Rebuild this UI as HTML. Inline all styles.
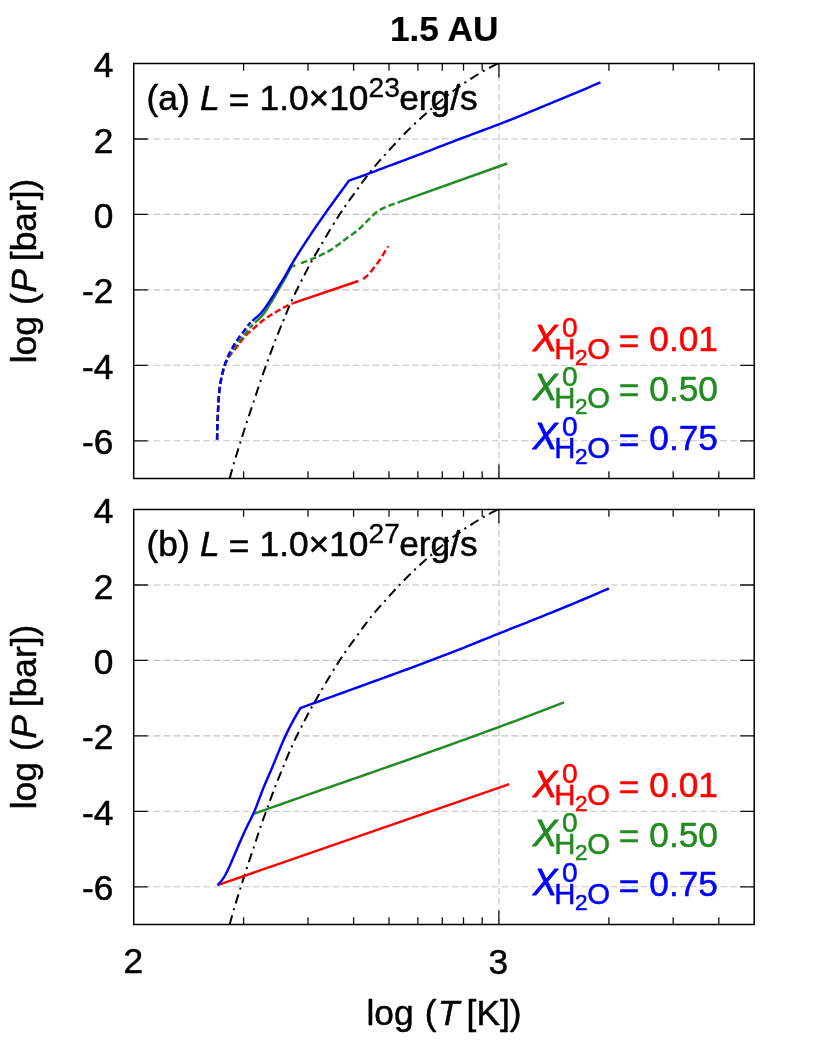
<!DOCTYPE html>
<html><head><meta charset="utf-8"><title>chart</title>
<style>html,body{margin:0;padding:0;background:#fff}body{width:830px;height:1040px;position:relative;overflow:hidden;font-family:"Liberation Sans", sans-serif}</style>
</head><body>
<svg width="830" height="1040" viewBox="0 0 830 1040" style="position:absolute;left:0;top:0;will-change:transform" font-family='"Liberation Sans", sans-serif' font-size="35.3" fill="#000">
<style>text{stroke-width:0.5px;stroke-linejoin:round}</style>
<rect width="830" height="1040" fill="#fff"/>
<defs><clipPath id="c0"><rect x="133.7" y="63.5" width="620.5" height="415.0"/></clipPath><clipPath id="c1"><rect x="133.7" y="509.5" width="620.5" height="415.0"/></clipPath></defs>
<path d="M133.7,139.0 H754.2" stroke="#c2c2c2" stroke-width="1.1" stroke-dasharray="6.8 3.14" fill="none"/>
<path d="M133.7,214.4 H754.2" stroke="#c2c2c2" stroke-width="1.1" stroke-dasharray="6.8 3.14" fill="none"/>
<path d="M133.7,289.9 H754.2" stroke="#c2c2c2" stroke-width="1.1" stroke-dasharray="6.8 3.14" fill="none"/>
<path d="M133.7,365.3 H754.2" stroke="#c2c2c2" stroke-width="1.1" stroke-dasharray="6.8 3.14" fill="none"/>
<path d="M133.7,440.8 H754.2" stroke="#c2c2c2" stroke-width="1.1" stroke-dasharray="6.8 3.14" fill="none"/>
<path d="M499.0,478.5 V63.5" stroke="#c2c2c2" stroke-width="1.1" stroke-dasharray="6.8 3.14" fill="none"/>
<g clip-path="url(#c0)" fill="none">
<path d="M227.78,485.27 L228.05,484.25 L228.33,483.24 M229.66,478.40 L229.92,477.47 L230.17,476.55 L230.43,475.62 L230.68,474.70 L230.94,473.77 L231.19,472.85 L231.45,471.92 L231.71,471.00 L231.96,470.07 L232.22,469.15 M233.60,464.32 L233.90,463.31 L234.19,462.31 M235.64,457.50 L235.92,456.58 L236.20,455.66 L236.49,454.75 L236.77,453.83 L237.06,452.91 L237.34,452.00 L237.63,451.08 L237.92,450.16 L238.20,449.25 L238.49,448.33 M240.00,443.54 L240.32,442.54 L240.63,441.54 M242.10,436.87 L242.39,435.96 L242.67,435.04 L242.96,434.12 L243.25,433.21 L243.54,432.29 L243.83,431.38 L244.12,430.46 L244.41,429.55 L244.70,428.63 L244.99,427.72 M246.49,423.06 L246.81,422.06 L247.14,421.06 M248.72,416.30 L249.03,415.39 L249.33,414.48 L249.64,413.57 L249.94,412.66 L250.25,411.75 L250.56,410.84 L250.87,409.93 L251.17,409.02 L251.48,408.11 L251.79,407.20 M253.39,402.44 L253.72,401.44 L254.05,400.45 M255.63,395.68 L255.93,394.77 L256.23,393.86 L256.53,392.95 L256.83,392.04 L257.13,391.12 L257.43,390.21 L257.73,389.30 L258.04,388.39 L258.34,387.48 L258.65,386.57 M260.25,381.81 L260.59,380.82 L260.94,379.83 M262.60,375.09 L262.92,374.19 L263.24,373.28 L263.56,372.38 L263.89,371.47 L264.21,370.57 L264.54,369.67 L264.86,368.76 L265.19,367.86 L265.52,366.96 L265.84,366.06 M267.56,361.34 L267.92,360.35 L268.28,359.36 M269.95,354.76 L270.28,353.86 L270.61,352.96 L270.94,352.06 L271.27,351.16 L271.60,350.26 L271.94,349.36 L272.27,348.46 L272.60,347.56 L272.94,346.66 L273.28,345.76 M275.02,341.18 L275.40,340.21 L275.78,339.23 M277.63,334.56 L277.99,333.67 L278.35,332.78 L278.71,331.89 L279.07,331.00 L279.43,330.11 L279.79,329.22 L280.15,328.33 L280.52,327.44 L280.88,326.56 L281.25,325.67 M283.15,321.02 L283.55,320.05 L283.95,319.08 M285.80,314.55 L286.16,313.66 L286.53,312.77 L286.89,311.88 L287.26,311.00 L287.63,310.11 L288.00,309.22 L288.37,308.34 L288.75,307.46 L289.12,306.57 L289.50,305.69 M291.46,301.21 L291.90,300.25 L292.33,299.29 M294.52,294.64 L294.94,293.77 L295.35,292.91 L295.77,292.04 L296.20,291.18 L296.62,290.32 L297.05,289.46 L297.48,288.60 L297.91,287.74 L298.34,286.88 L298.77,286.03 M301.10,281.44 L301.57,280.50 L302.05,279.57 M304.28,275.21 L304.72,274.36 L305.16,273.50 L305.60,272.65 L306.05,271.80 L306.49,270.95 L306.93,270.10 L307.38,269.25 L307.83,268.40 L308.28,267.55 L308.73,266.70 M311.05,262.39 L311.56,261.47 L312.07,260.55 M314.47,256.29 L314.95,255.46 L315.43,254.62 L315.91,253.79 L316.39,252.96 L316.87,252.13 L317.35,251.30 L317.84,250.47 L318.32,249.64 L318.81,248.82 L319.29,247.99 M321.78,243.77 L322.31,242.87 L322.84,241.96 M325.52,237.42 L326.01,236.60 L326.50,235.77 L326.99,234.94 L327.48,234.12 L327.97,233.29 L328.46,232.47 L328.95,231.64 L329.44,230.82 L329.94,230.00 L330.43,229.17 M333.17,224.67 L333.72,223.77 L334.27,222.88 M336.80,218.84 L337.31,218.03 L337.83,217.22 L338.35,216.41 L338.87,215.60 L339.39,214.80 L339.92,213.99 L340.44,213.19 L340.97,212.39 L341.50,211.59 L342.03,210.79 M344.72,206.84 L345.31,205.98 L345.92,205.12 M348.82,201.03 L349.38,200.25 L349.95,199.47 L350.51,198.69 L351.08,197.92 L351.64,197.14 L352.21,196.37 L352.77,195.59 L353.34,194.82 L353.91,194.04 L354.48,193.27 M357.44,189.21 L358.05,188.36 L358.67,187.51 M361.53,183.54 L362.09,182.76 L362.65,181.98 L363.21,181.20 L363.78,180.43 L364.34,179.65 L364.91,178.87 L365.48,178.10 L366.05,177.33 L366.62,176.56 L367.20,175.79 M370.18,171.91 L370.83,171.09 L371.49,170.27 M374.62,166.50 L375.24,165.77 L375.86,165.04 L376.49,164.31 L377.12,163.59 L377.76,162.87 L378.39,162.15 L379.03,161.43 L379.66,160.71 L380.30,160.00 L380.94,159.28 M384.23,155.65 L384.93,154.87 L385.63,154.09 M389.00,150.37 L389.65,149.66 L390.29,148.95 L390.94,148.24 L391.59,147.53 L392.24,146.82 L392.88,146.11 L393.53,145.40 L394.18,144.70 L394.83,143.99 L395.49,143.29 M398.92,139.62 L399.64,138.86 L400.36,138.10 M403.86,134.49 L404.53,133.81 L405.20,133.12 L405.88,132.44 L406.56,131.76 L407.24,131.08 L407.92,130.40 L408.60,129.73 L409.28,129.06 L409.97,128.38 L410.65,127.71 M414.27,124.23 L415.04,123.51 L415.80,122.79 M419.48,119.37 L420.19,118.72 L420.89,118.08 L421.60,117.43 L422.32,116.79 L423.03,116.14 L423.74,115.50 L424.46,114.86 L425.17,114.22 L425.89,113.58 L426.61,112.94 M430.38,109.63 L431.17,108.94 L431.96,108.25 M435.77,104.97 L436.50,104.35 L437.23,103.73 L437.96,103.11 L438.70,102.49 L439.44,101.88 L440.17,101.26 L440.91,100.65 L441.65,100.04 L442.39,99.43 L443.14,98.82 M447.06,95.68 L447.88,95.04 L448.71,94.39 M452.60,91.42 L453.37,90.84 L454.14,90.27 L454.92,89.70 L455.69,89.13 L456.47,88.57 L457.24,88.01 L458.02,87.45 L458.81,86.89 L459.59,86.33 L460.37,85.78 M464.41,83.00 L465.28,82.42 L466.15,81.83 M470.35,79.08 L471.16,78.56 L471.97,78.04 L472.78,77.53 L473.59,77.02 L474.41,76.51 L475.22,76.01 L476.04,75.51 L476.86,75.01 L477.68,74.51 L478.51,74.02 M482.85,71.49 L483.76,70.97 L484.67,70.45 M489.08,68.04 L489.92,67.59 L490.77,67.14 L491.62,66.69 L492.47,66.24 L493.32,65.80 L494.17,65.36 L495.03,64.92 L495.88,64.48 L496.73,64.04 L497.59,63.61 M502.08,61.36 L503.02,60.89 L503.96,60.43" stroke="#000" stroke-width="2.0"/>
<path d="M217.10,439.60 L217.12,438.70 L217.13,437.80 L217.15,436.90 L217.17,436.00 L217.18,435.10 L217.20,434.20 L217.22,433.30 M217.28,430.30 L217.30,429.40 L217.32,428.50 L217.35,427.60 L217.37,426.70 L217.39,425.80 L217.42,424.90 L217.45,424.00 M217.54,421.01 L217.58,420.11 L217.61,419.21 L217.65,418.31 L217.68,417.41 L217.72,416.51 L217.76,415.61 L217.80,414.71 M217.94,411.71 L217.99,410.82 L218.03,409.92 L218.08,409.02 L218.13,408.12 L218.18,407.22 L218.23,406.32 L218.28,405.42 M218.45,402.43 L218.51,401.53 L218.56,400.63 L218.62,399.73 L218.68,398.84 L218.75,397.94 L218.82,397.04 L218.89,396.14 M219.16,393.16 L219.25,392.26 L219.34,391.37 L219.44,390.47 L219.55,389.58 L219.66,388.68 L219.78,387.79 L219.91,386.90 M220.37,383.94 L220.52,383.05 L220.68,382.16 L220.84,381.28 L221.01,380.39 L221.18,379.51 L221.37,378.63 L221.55,377.75 M222.22,374.83 L222.44,373.95 L222.66,373.08 L222.89,372.21 L223.13,371.34 L223.37,370.48 L223.63,369.61 L223.89,368.75 M224.82,365.90 L225.12,365.05 L225.44,364.21 L225.76,363.37 L226.09,362.53 L226.44,361.70 L226.81,360.88 L227.19,360.07 M228.62,357.43 L229.09,356.66 L229.59,355.92 L230.12,355.18 L230.66,354.46 L231.21,353.76 L231.78,353.06 L232.35,352.36 M234.29,350.07 L234.86,349.37 L235.42,348.67 L235.98,347.96 L236.53,347.25 L237.07,346.53 L237.60,345.81 L238.14,345.08 M239.91,342.66 L240.44,341.94 L240.98,341.22 L241.52,340.50 L242.07,339.78 L242.63,339.08 L243.19,338.38 L243.76,337.68 M245.77,335.45 L246.40,334.80 L247.04,334.18 L247.70,333.56 L248.37,332.96 L249.04,332.37 L249.73,331.78 L250.41,331.20 M252.71,329.27 L253.39,328.68 L254.07,328.09 L254.74,327.49 L255.41,326.88 L256.07,326.28 L256.73,325.67 L257.39,325.06 M259.62,323.05 L260.30,322.46 L260.99,321.88 L261.68,321.31 L262.39,320.75 L263.10,320.20 L263.83,319.66 L264.55,319.13 M267.03,317.44 L267.78,316.95 L268.54,316.46 L269.30,315.98 L270.07,315.51 L270.84,315.04 L271.61,314.58 L272.38,314.12 M274.98,312.61 L275.75,312.16 L276.53,311.71 L277.31,311.26 L278.09,310.81 L278.87,310.35 L279.65,309.90 L280.42,309.44 M283.02,307.95 L283.81,307.51 L284.60,307.08 L285.40,306.66 L286.20,306.25 L287.00,305.85 L287.81,305.46 L288.63,305.08 M291.38,303.88 L291.94,303.64 L292.50,303.40" stroke="#ff0000" stroke-width="2.45"/>
<path d="M292.5,303.4 L358.3,281" stroke="#ff0000" stroke-width="2.45"/>
<path d="M363.16,279.00 L363.92,278.44 L364.66,277.85 L365.38,277.24 L366.11,276.65 L366.85,276.06 L367.57,275.45 L368.27,274.82 M370.49,272.25 L371.06,271.50 L371.63,270.74 L372.20,269.99 L372.77,269.24 L373.34,268.50 L373.92,267.75 L374.50,267.01 M376.62,264.35 L377.20,263.61 L377.78,262.86 L378.34,262.10 L378.89,261.33 L379.42,260.55 L379.93,259.77 L380.44,258.97 M382.21,256.07 L382.70,255.26 L383.18,254.45 L383.66,253.64 L384.14,252.83 L384.62,252.02 L385.09,251.20 L385.58,250.39 M387.41,247.53 L387.85,246.86 L388.30,246.20" stroke="#ff0000" stroke-width="2.45"/>
<path d="M217.10,439.60 L217.12,438.70 L217.14,437.80 L217.15,436.90 L217.17,436.00 L217.19,435.10 L217.21,434.20 L217.23,433.31 M217.30,430.31 L217.32,429.41 L217.34,428.51 L217.37,427.61 L217.39,426.71 L217.42,425.81 L217.45,424.91 L217.48,424.01 M217.58,421.02 L217.62,420.12 L217.66,419.22 L217.69,418.32 L217.73,417.42 L217.78,416.52 L217.82,415.63 L217.86,414.73 M218.01,411.73 L218.06,410.84 L218.10,409.94 L218.15,409.04 L218.20,408.14 L218.25,407.24 L218.30,406.34 L218.35,405.45 M218.51,402.45 L218.56,401.55 L218.62,400.66 L218.67,399.76 L218.73,398.86 L218.79,397.96 L218.85,397.07 L218.92,396.17 M219.17,393.18 L219.26,392.29 L219.35,391.39 L219.45,390.50 L219.55,389.60 L219.66,388.71 L219.78,387.82 L219.90,386.93 M220.35,383.96 L220.50,383.07 L220.65,382.19 L220.81,381.30 L220.97,380.42 L221.14,379.53 L221.32,378.65 L221.50,377.77 M222.14,374.84 L222.35,373.96 L222.56,373.09 L222.77,372.22 L223.00,371.34 L223.22,370.47 L223.46,369.60 L223.70,368.74 M224.56,365.86 L224.84,365.02 L225.17,364.21 L225.49,363.40 L225.83,362.59 L226.18,361.79 L226.53,360.99 L226.90,360.19 M228.18,357.56 L228.59,356.78 L229.01,356.00 L229.44,355.23 L229.88,354.47 L230.32,353.71 L230.78,352.95 L231.24,352.20 M232.83,349.71 L233.31,348.97 L233.81,348.23 L234.30,347.50 L234.80,346.76 L235.30,346.03 L235.80,345.30 L236.31,344.57 M238.06,342.18 L238.60,341.48 L239.16,340.78 L239.72,340.09 L240.30,339.41 L240.89,338.74 L241.49,338.08 L242.10,337.42 M244.13,335.23 L244.73,334.57 L245.32,333.89 L245.87,333.20 L246.40,332.51 L246.93,331.80 L247.46,331.10 L247.98,330.39 M249.77,328.06 L250.34,327.37 L250.93,326.69 L251.53,326.02 L252.16,325.38 L252.80,324.74" stroke="#228b22" stroke-width="2.45"/>
<path d="M254.94,322.57 L255.66,321.89 L256.39,321.23 L257.12,320.57 L257.85,319.91 L258.58,319.25 L259.30,318.58 L260.02,317.89 L260.72,317.20 L261.40,316.48 L262.07,315.73 L262.72,314.96 L263.35,314.17 L263.96,313.37 L264.56,312.56 L265.14,311.74 L265.72,310.90 L266.28,310.06 L266.84,309.22 L267.39,308.37 L267.93,307.52 L268.47,306.66 L269.01,305.81 L269.55,304.95 L270.08,304.09 L270.61,303.22 L271.14,302.36 L271.67,301.49 L272.19,300.62 L272.70,299.75 L273.22,298.88 L273.72,298.00 L274.23,297.12 L274.73,296.27 L275.23,295.43 L275.72,294.58 L276.21,293.73 L276.70,292.87 L277.19,292.02 L277.68,291.17 L278.16,290.32 L278.65,289.47 L279.14,288.62 L279.64,287.77 L280.13,286.92 L280.62,286.07 L281.12,285.22 L281.62,284.38 L282.11,283.53 L282.61,282.68 L283.10,281.83 L283.59,280.98 L284.08,280.13 L284.56,279.27 L285.05,278.42 L285.52,277.56 L286.00,276.70 L286.46,275.83 L286.93,274.97 L287.40,274.10 L287.86,273.24 L288.32,272.37 L288.78,271.50 L289.24,270.63 L289.70,269.77 L290.16,268.90 L290.63,268.03 L291.09,267.17 L291.56,266.30 L292.03,265.44" stroke="#228b22" stroke-width="2.45"/>
<path d="M292.10,266.40 L292.90,266.11 L293.70,265.83 L294.50,265.54 L295.30,265.26 M301.04,263.18 L301.91,262.86 L302.78,262.54 L303.65,262.22 L304.52,261.89 L305.39,261.57 L306.26,261.24 L307.13,260.91 M310.01,259.78 L310.88,259.43 L311.74,259.09 L312.60,258.73 L313.45,258.38 L314.31,258.02 L315.16,257.65 L316.02,257.28 M318.85,256.02 L319.69,255.63 L320.53,255.24 L321.37,254.84 L322.21,254.44 L323.04,254.03 L323.88,253.62 L324.71,253.21 M327.45,251.77 L328.27,251.32 L329.07,250.86 L329.88,250.40 L330.68,249.92 L331.47,249.44 L332.25,248.94 L333.03,248.43 M335.57,246.66 L336.33,246.12 L337.07,245.57 L337.82,245.02 L338.56,244.46 L339.30,243.90 L340.04,243.34 L340.78,242.77 M343.25,240.90 L343.99,240.34 L344.73,239.78 L345.48,239.23 L346.22,238.67 L346.97,238.13 L347.73,237.58 L348.48,237.04 M351.01,235.25 L351.77,234.72 L352.53,234.18 L353.28,233.63 L354.03,233.09 L354.78,232.53 L355.52,231.97 L356.25,231.40 M358.63,229.42 L359.33,228.81 L360.02,228.18 L360.70,227.55 L361.37,226.91 L362.04,226.26 L362.70,225.61 L363.35,224.96 M365.53,222.75 L366.18,222.09 L366.83,221.43 L367.48,220.76 L368.13,220.10 L368.78,219.43 L369.43,218.77 L370.08,218.11 M372.27,215.92 L372.94,215.27 L373.62,214.64 L374.31,214.02 L375.02,213.41 L375.73,212.82 L376.47,212.25 L377.21,211.70 M379.81,210.00 L380.61,209.54 L381.42,209.09 L382.25,208.66 L383.08,208.24 L383.91,207.84 L384.76,207.45 L385.61,207.08 M388.48,205.92 L389.35,205.59 L390.22,205.27 L391.09,204.95 L391.97,204.64 L392.84,204.33 L393.72,204.02 L394.60,203.71 M397.52,202.68 L398.45,202.35 L399.37,202.03 L400.30,201.70" stroke="#228b22" stroke-width="2.45"/>
<path d="M400.3,201.7 L507.2,163.5" stroke="#228b22" stroke-width="2.45"/>
<path d="M217.10,439.60 L217.12,438.70 L217.13,437.80 L217.15,436.90 L217.16,436.00 L217.18,435.10 L217.20,434.20 L217.21,433.30 M217.28,430.30 L217.30,429.40 L217.32,428.50 L217.34,427.60 L217.37,426.70 L217.39,425.80 L217.42,424.90 L217.44,424.00 M217.55,421.01 L217.58,420.11 L217.62,419.21 L217.65,418.31 L217.69,417.41 L217.73,416.51 L217.77,415.61 L217.81,414.71 M217.95,411.71 L218.00,410.82 L218.04,409.92 L218.09,409.02 L218.14,408.12 L218.18,407.22 L218.23,406.32 L218.28,405.42 M218.44,402.43 L218.49,401.53 L218.54,400.63 L218.59,399.73 L218.65,398.83 L218.71,397.94 L218.77,397.04 L218.83,396.14 M219.08,393.15 L219.16,392.25 L219.25,391.36 L219.35,390.46 L219.45,389.57 L219.56,388.68 L219.67,387.78 L219.79,386.89 M220.24,383.92 L220.38,383.04 L220.53,382.15 L220.69,381.26 L220.85,380.38 L221.02,379.49 L221.20,378.61 L221.38,377.73 M222.01,374.80 L222.21,373.92 L222.42,373.04 L222.64,372.17 L222.86,371.30 L223.08,370.43 L223.32,369.56 L223.56,368.69 M224.41,365.81 L224.68,364.95 L224.96,364.10 L225.24,363.25 L225.54,362.40 L225.84,361.55 L226.15,360.70 L226.47,359.86 M227.62,357.09 L227.98,356.27 L228.35,355.45 L228.74,354.63 L229.13,353.83 L229.54,353.02 L229.95,352.22 L230.37,351.42 M231.81,348.79 L232.26,348.01 L232.70,347.23 L233.15,346.45 L233.61,345.67 L234.06,344.90 L234.52,344.13 L234.99,343.36 M236.60,340.82 L237.10,340.07 L237.61,339.33 L238.13,338.60 L238.67,337.88 L239.21,337.16 L239.77,336.46 L240.33,335.75 M242.22,333.42 L242.78,332.71 L243.32,332.00 L243.86,331.28 L244.39,330.55 L244.91,329.81 L245.43,329.08 L245.95,328.34 M247.71,325.91 L248.27,325.19 L248.85,324.48 L249.45,323.78 L250.06,323.11 L250.70,322.44" stroke="#0000ff" stroke-width="2.45"/>
<path d="M252.32,320.88 L253.06,320.21 L253.82,319.56 L254.58,318.92 L255.35,318.27 L256.11,317.63 L256.87,316.99 L257.63,316.34 L258.37,315.67 L259.10,314.99 L259.81,314.29 L260.50,313.57 L261.17,312.83 L261.82,312.07 L262.46,311.30 L263.08,310.52 L263.69,309.73 L264.29,308.93 L264.87,308.12 L265.45,307.31 L266.03,306.49 L266.60,305.67 L267.17,304.85 L267.73,304.03 L268.30,303.20 L268.85,302.38 L269.41,301.55 L269.96,300.72 L270.51,299.88 L271.06,299.05 L271.60,298.21 L272.14,297.37 L272.67,296.52 L273.20,295.68 L273.73,294.83 L274.25,293.98 L274.77,293.12 L275.28,292.27 L275.80,291.42 L276.31,290.56 L276.83,289.70 L277.34,288.85 L277.86,288.00 L278.38,287.14 L278.90,286.29 L279.42,285.44 L279.94,284.59 L280.47,283.74 L280.99,282.89 L281.51,282.04 L282.03,281.18 L282.55,280.33 L283.07,279.48 L283.58,278.62 L284.09,277.76 L284.59,276.90 L285.09,276.04 L285.59,275.17 L286.08,274.30 L286.58,273.43 L287.06,272.56 L287.55,271.69 L288.04,270.82 L288.53,269.95 L289.01,269.08 L289.50,268.21 L289.99,267.34 L290.49,266.47 L290.98,265.60 L291.48,264.74 L291.98,263.88 L292.48,263.01 L292.99,262.16 L293.51,261.30 L294.02,260.44 L294.54,259.59 L295.06,258.74 L295.58,257.89 L296.11,257.04 L296.63,256.19 L297.16,255.34 L297.69,254.50 L298.22,253.65 L298.76,252.81 L299.29,251.97 L299.83,251.12 L300.36,250.28 L300.90,249.44 L301.44,248.60 L301.98,247.76 L302.52,246.92 L303.06,246.08 L303.60,245.24 L304.15,244.40 L304.69,243.57 L305.23,242.73 L305.78,241.90 L306.33,241.06 L306.87,240.23 L307.42,239.39 L307.97,238.56 L308.52,237.72 L309.07,236.89 L309.62,236.06 L310.18,235.23 L310.73,234.40 L311.29,233.57 L311.84,232.74 L312.40,231.91 L312.96,231.08 L313.52,230.26 L314.08,229.43 L314.64,228.61 L315.21,227.79 L315.77,226.96 L316.34,226.14 L316.91,225.32 L317.48,224.50 L318.05,223.68 L318.61,222.86 L319.18,222.04 L319.75,221.22 L320.32,220.40 L320.89,219.58 L321.46,218.76 L322.03,217.94 L322.60,217.12 L323.17,216.30 L323.74,215.48 L324.31,214.66 L324.89,213.84 L325.46,213.03 L326.03,212.21 L326.61,211.40 L327.19,210.58 L327.77,209.77 L328.35,208.95 L328.93,208.14 L329.51,207.33 L330.09,206.52 L330.68,205.71 L331.27,204.91 L331.85,204.10 L332.44,203.29 L333.03,202.49 L333.62,201.68 L334.21,200.87 L334.80,200.07 L335.38,199.26 L335.97,198.46 L336.56,197.65 L337.15,196.84 L337.74,196.04 L338.33,195.23 L338.92,194.43 L339.51,193.62 L340.09,192.81 L340.68,192.00 L341.27,191.20 L341.86,190.39 L342.45,189.58 L343.03,188.78 L343.62,187.97 L344.21,187.16 L344.79,186.35 L345.38,185.55 L345.97,184.74 L346.55,183.93 L347.14,183.12 L347.73,182.32 L348.31,181.51 L348.90,180.70 L348.90,180.70 L353.23,179.20 L357.55,177.68 L361.85,176.13 L366.15,174.54 L370.44,172.93 L374.72,171.31 L379.00,169.68 L383.28,168.06 L387.57,166.45 L391.86,164.85 L396.15,163.25 L400.44,161.65 L404.73,160.05 L409.02,158.45 L413.30,156.84 L417.59,155.22 L421.87,153.59 L426.14,151.95 L430.41,150.30 L434.68,148.64 L438.95,146.98 L443.22,145.33 L447.49,143.67 L451.76,142.02 L456.04,140.38 L460.32,138.76 L464.60,137.14 L468.89,135.54 L473.18,133.94 L477.48,132.35 L481.77,130.76 L486.06,129.16 L490.35,127.56 L494.64,125.95 L498.92,124.32 L503.19,122.67 L507.45,121.00 L511.71,119.32 L515.96,117.62 L520.21,115.91 L524.45,114.19 L528.69,112.46 L532.93,110.72 L537.16,108.97 L541.39,107.22 L545.63,105.47 L549.85,103.72 L554.08,101.96 L558.31,100.20 L562.53,98.43 L566.76,96.66 L570.98,94.89 L575.20,93.11 L579.42,91.33 L583.64,89.55 L587.85,87.76 L592.07,85.98 L596.28,84.19 L600.50,82.40" stroke="#0000ff" stroke-width="2.45" stroke-linejoin="miter"/>
</g>
<path d="M243.6,63.5 v7.2 M243.6,478.5 v-7.2 M308.0,63.5 v7.2 M308.0,478.5 v-7.2 M353.6,63.5 v7.2 M353.6,478.5 v-7.2 M389.0,63.5 v7.2 M389.0,478.5 v-7.2 M417.9,63.5 v7.2 M417.9,478.5 v-7.2 M442.3,63.5 v7.2 M442.3,478.5 v-7.2 M463.5,63.5 v7.2 M463.5,478.5 v-7.2 M482.2,63.5 v7.2 M482.2,478.5 v-7.2 M608.9,63.5 v7.2 M608.9,478.5 v-7.2 M673.2,63.5 v7.2 M673.2,478.5 v-7.2 M718.8,63.5 v7.2 M718.8,478.5 v-7.2 M498.9,63.5 v14 M498.9,478.5 v-14 M133.7,139.0 h14 M754.2,139.0 h-14 M133.7,214.4 h14 M754.2,214.4 h-14 M133.7,289.9 h14 M754.2,289.9 h-14 M133.7,365.3 h14 M754.2,365.3 h-14 M133.7,440.8 h14 M754.2,440.8 h-14" stroke="#111" stroke-width="1.3" fill="none"/>
<rect x="133.7" y="63.5" width="620.5" height="415.0" fill="none" stroke="#000" stroke-width="1.5"/>
<text x="113.5" y="77.0" text-anchor="end" stroke="#000">4</text>
<text x="113.5" y="152.5" text-anchor="end" stroke="#000">2</text>
<text x="113.5" y="227.9" text-anchor="end" stroke="#000">0</text>
<text x="113.5" y="303.4" text-anchor="end" stroke="#000">-2</text>
<text x="113.5" y="378.8" text-anchor="end" stroke="#000">-4</text>
<text x="113.5" y="454.3" text-anchor="end" stroke="#000">-6</text>
<path d="M133.7,585.0 H754.2" stroke="#c2c2c2" stroke-width="1.1" stroke-dasharray="6.8 3.14" fill="none"/>
<path d="M133.7,660.4 H754.2" stroke="#c2c2c2" stroke-width="1.1" stroke-dasharray="6.8 3.14" fill="none"/>
<path d="M133.7,735.9 H754.2" stroke="#c2c2c2" stroke-width="1.1" stroke-dasharray="6.8 3.14" fill="none"/>
<path d="M133.7,811.3 H754.2" stroke="#c2c2c2" stroke-width="1.1" stroke-dasharray="6.8 3.14" fill="none"/>
<path d="M133.7,886.8 H754.2" stroke="#c2c2c2" stroke-width="1.1" stroke-dasharray="6.8 3.14" fill="none"/>
<path d="M499.0,924.5 V509.5" stroke="#c2c2c2" stroke-width="1.1" stroke-dasharray="6.8 3.14" fill="none"/>
<g clip-path="url(#c1)" fill="none">
<path d="M227.78,931.27 L228.05,930.25 L228.33,929.24 M229.66,924.40 L229.92,923.47 L230.17,922.55 L230.43,921.62 L230.68,920.70 L230.94,919.77 L231.19,918.85 L231.45,917.92 L231.71,917.00 L231.96,916.07 L232.22,915.15 M233.60,910.32 L233.90,909.31 L234.19,908.31 M235.64,903.50 L235.92,902.58 L236.20,901.66 L236.49,900.75 L236.77,899.83 L237.06,898.91 L237.34,898.00 L237.63,897.08 L237.92,896.16 L238.20,895.25 L238.49,894.33 M240.00,889.54 L240.32,888.54 L240.63,887.54 M242.10,882.87 L242.39,881.96 L242.67,881.04 L242.96,880.12 L243.25,879.21 L243.54,878.29 L243.83,877.38 L244.12,876.46 L244.41,875.55 L244.70,874.63 L244.99,873.72 M246.49,869.06 L246.81,868.06 L247.14,867.06 M248.72,862.30 L249.03,861.39 L249.33,860.48 L249.64,859.57 L249.94,858.66 L250.25,857.75 L250.56,856.84 L250.87,855.93 L251.17,855.02 L251.48,854.11 L251.79,853.20 M253.39,848.44 L253.72,847.44 L254.05,846.45 M255.63,841.68 L255.93,840.77 L256.23,839.86 L256.53,838.95 L256.83,838.04 L257.13,837.12 L257.43,836.21 L257.73,835.30 L258.04,834.39 L258.34,833.48 L258.65,832.57 M260.25,827.81 L260.59,826.82 L260.94,825.83 M262.60,821.09 L262.92,820.19 L263.24,819.28 L263.56,818.38 L263.89,817.47 L264.21,816.57 L264.54,815.67 L264.86,814.76 L265.19,813.86 L265.52,812.96 L265.84,812.06 M267.56,807.34 L267.92,806.35 L268.28,805.36 M269.95,800.76 L270.28,799.86 L270.61,798.96 L270.94,798.06 L271.27,797.16 L271.60,796.26 L271.94,795.36 L272.27,794.46 L272.60,793.56 L272.94,792.66 L273.28,791.76 M275.02,787.18 L275.40,786.21 L275.78,785.23 M277.63,780.56 L277.99,779.67 L278.35,778.78 L278.71,777.89 L279.07,777.00 L279.43,776.11 L279.79,775.22 L280.15,774.33 L280.52,773.44 L280.88,772.56 L281.25,771.67 M283.15,767.02 L283.55,766.05 L283.95,765.08 M285.80,760.55 L286.16,759.66 L286.53,758.77 L286.89,757.88 L287.26,757.00 L287.63,756.11 L288.00,755.22 L288.37,754.34 L288.75,753.46 L289.12,752.57 L289.50,751.69 M291.46,747.21 L291.90,746.25 L292.33,745.29 M294.52,740.64 L294.94,739.77 L295.35,738.91 L295.77,738.04 L296.20,737.18 L296.62,736.32 L297.05,735.46 L297.48,734.60 L297.91,733.74 L298.34,732.88 L298.77,732.03 M301.10,727.44 L301.57,726.50 L302.05,725.57 M304.28,721.21 L304.72,720.36 L305.16,719.50 L305.60,718.65 L306.05,717.80 L306.49,716.95 L306.93,716.10 L307.38,715.25 L307.83,714.40 L308.28,713.55 L308.73,712.70 M311.05,708.39 L311.56,707.47 L312.07,706.55 M314.47,702.29 L314.95,701.46 L315.43,700.62 L315.91,699.79 L316.39,698.96 L316.87,698.13 L317.35,697.30 L317.84,696.47 L318.32,695.64 L318.81,694.82 L319.29,693.99 M321.78,689.77 L322.31,688.87 L322.84,687.96 M325.52,683.42 L326.01,682.60 L326.50,681.77 L326.99,680.94 L327.48,680.12 L327.97,679.29 L328.46,678.47 L328.95,677.64 L329.44,676.82 L329.94,676.00 L330.43,675.17 M333.17,670.67 L333.72,669.77 L334.27,668.88 M336.80,664.84 L337.31,664.03 L337.83,663.22 L338.35,662.41 L338.87,661.60 L339.39,660.80 L339.92,659.99 L340.44,659.19 L340.97,658.39 L341.50,657.59 L342.03,656.79 M344.72,652.84 L345.31,651.98 L345.92,651.12 M348.82,647.03 L349.38,646.25 L349.95,645.47 L350.51,644.69 L351.08,643.92 L351.64,643.14 L352.21,642.37 L352.77,641.59 L353.34,640.82 L353.91,640.04 L354.48,639.27 M357.44,635.21 L358.05,634.36 L358.67,633.51 M361.53,629.54 L362.09,628.76 L362.65,627.98 L363.21,627.20 L363.78,626.43 L364.34,625.65 L364.91,624.87 L365.48,624.10 L366.05,623.33 L366.62,622.56 L367.20,621.79 M370.18,617.91 L370.83,617.09 L371.49,616.27 M374.62,612.50 L375.24,611.77 L375.86,611.04 L376.49,610.31 L377.12,609.59 L377.76,608.87 L378.39,608.15 L379.03,607.43 L379.66,606.71 L380.30,606.00 L380.94,605.28 M384.23,601.65 L384.93,600.87 L385.63,600.09 M389.00,596.37 L389.65,595.66 L390.29,594.95 L390.94,594.24 L391.59,593.53 L392.24,592.82 L392.88,592.11 L393.53,591.40 L394.18,590.70 L394.83,589.99 L395.49,589.29 M398.92,585.62 L399.64,584.86 L400.36,584.10 M403.86,580.49 L404.53,579.81 L405.20,579.12 L405.88,578.44 L406.56,577.76 L407.24,577.08 L407.92,576.40 L408.60,575.73 L409.28,575.06 L409.97,574.38 L410.65,573.71 M414.27,570.23 L415.04,569.51 L415.80,568.79 M419.48,565.37 L420.19,564.72 L420.89,564.08 L421.60,563.43 L422.32,562.79 L423.03,562.14 L423.74,561.50 L424.46,560.86 L425.17,560.22 L425.89,559.58 L426.61,558.94 M430.38,555.63 L431.17,554.94 L431.96,554.25 M435.77,550.97 L436.50,550.35 L437.23,549.73 L437.96,549.11 L438.70,548.49 L439.44,547.88 L440.17,547.26 L440.91,546.65 L441.65,546.04 L442.39,545.43 L443.14,544.82 M447.06,541.68 L447.88,541.04 L448.71,540.39 M452.60,537.42 L453.37,536.84 L454.14,536.27 L454.92,535.70 L455.69,535.13 L456.47,534.57 L457.24,534.01 L458.02,533.45 L458.81,532.89 L459.59,532.33 L460.37,531.78 M464.41,529.00 L465.28,528.42 L466.15,527.83 M470.35,525.08 L471.16,524.56 L471.97,524.04 L472.78,523.53 L473.59,523.02 L474.41,522.51 L475.22,522.01 L476.04,521.51 L476.86,521.01 L477.68,520.51 L478.51,520.02 M482.85,517.49 L483.76,516.97 L484.67,516.45 M489.08,514.04 L489.92,513.59 L490.77,513.14 L491.62,512.69 L492.47,512.24 L493.32,511.80 L494.17,511.36 L495.03,510.92 L495.88,510.48 L496.73,510.04 L497.59,509.61 M502.08,507.36 L503.02,506.89 L503.96,506.43" stroke="#000" stroke-width="2.0"/>
<path d="M217.5,885.2 L509.3,784.1" stroke="#ff0000" stroke-width="2.45"/>
<path d="M253.90,813.80 L259.17,811.94 L264.43,810.08 L269.70,808.21 L274.96,806.35 L280.23,804.49 L285.50,802.63 L290.76,800.78 L296.03,798.92 L301.30,797.06 L306.57,795.21 L311.84,793.36 L317.11,791.51 L322.38,789.67 L327.65,787.82 L332.92,785.98 L338.20,784.14 L343.47,782.30 L348.75,780.47 L354.02,778.64 L359.30,776.80 L364.57,774.97 L369.85,773.13 L375.12,771.30 L380.40,769.46 L385.67,767.62 L390.94,765.78 L396.21,763.93 L401.48,762.08 L406.75,760.22 L412.02,758.37 L417.28,756.50 L422.54,754.63 L427.81,752.76 L433.07,750.89 L438.33,749.01 L443.58,747.12 L448.84,745.24 L454.10,743.35 L459.35,741.45 L464.60,739.55 L469.85,737.65 L475.11,735.75 L480.35,733.84 L485.60,731.93 L490.85,730.01 L496.09,728.08 L501.33,726.15 L506.57,724.21 L511.80,722.27 L517.03,720.31 L522.26,718.35 L527.49,716.38 L532.71,714.39 L537.93,712.41 L543.15,710.41 L548.36,708.41 L553.57,706.41 L558.79,704.41 L564.00,702.40" stroke="#228b22" stroke-width="2.45"/>
<path d="M217.50,885.20 L218.19,884.48 L218.87,883.76 L219.55,883.03 L220.21,882.28 L220.86,881.53 L221.49,880.75 L222.09,879.96 L222.68,879.16 L223.24,878.34 L223.78,877.50 L224.30,876.65 L224.81,875.79 L225.29,874.92 L225.77,874.05 L226.23,873.17 L226.69,872.28 L227.14,871.39 L227.59,870.50 L228.02,869.61 L228.45,868.71 L228.87,867.80 L229.28,866.90 L229.69,865.99 L230.09,865.08 L230.48,864.16 L230.88,863.25 L231.27,862.33 L231.66,861.42 L232.06,860.50 L232.45,859.59 L232.85,858.67 L233.24,857.76 L233.64,856.84 L234.03,855.93 L234.42,855.01 L234.81,854.10 L235.21,853.18 L235.60,852.27 L235.99,851.35 L236.38,850.44 L236.77,849.52 L237.16,848.60 L237.55,847.69 L237.94,846.77 L238.34,845.86 L238.73,844.94 L239.12,844.03 L239.52,843.11 L239.91,842.20 L240.31,841.28 L240.71,840.37 L241.11,839.46 L241.51,838.55 L241.91,837.64 L242.31,836.73 L242.72,835.82 L243.13,834.91 L243.54,834.00 L243.95,833.09 L244.37,832.19 L244.79,831.29 L245.21,830.38 L245.63,829.48 L246.06,828.58 L246.49,827.68 L246.92,826.79 L247.35,825.89 L247.79,825.00 L248.23,824.10 L248.68,823.21 L249.12,822.32 L249.56,821.43 L250.01,820.53 L250.45,819.64 L250.89,818.75 L251.33,817.85 L251.76,816.96 L252.19,816.06 L252.62,815.16 L253.04,814.26 L253.45,813.35 L253.86,812.44 L254.26,811.53 L254.65,810.62 L255.04,809.70 L255.42,808.78 L255.79,807.85 L256.16,806.93 L256.53,806.00 L256.89,805.08 L257.25,804.15 L257.60,803.22 L257.96,802.28 L258.31,801.35 L258.66,800.42 L259.01,799.49 L259.35,798.55 L259.70,797.62 L260.05,796.69 L260.40,795.75 L260.75,794.82 L261.10,793.89 L261.45,792.96 L261.81,792.03 L262.17,791.10 L262.53,790.17 L262.90,789.25 L263.27,788.32 L263.65,787.40 L264.03,786.48 L264.41,785.56 L264.79,784.64 L265.18,783.72 L265.57,782.81 L265.97,781.89 L266.36,780.98 L266.76,780.06 L267.15,779.15 L267.55,778.24 L267.95,777.32 L268.35,776.41 L268.75,775.50 L269.14,774.59 L269.54,773.67 L269.94,772.76 L270.34,771.85 L270.73,770.93 L271.12,770.02 L271.51,769.10 L271.90,768.18 L272.29,767.27 L272.68,766.35 L273.06,765.43 L273.44,764.51 L273.82,763.59 L274.20,762.67 L274.58,761.75 L274.95,760.82 L275.33,759.90 L275.70,758.98 L276.08,758.06 L276.46,757.13 L276.83,756.21 L277.21,755.29 L277.58,754.37 L277.96,753.44 L278.33,752.52 L278.71,751.60 L279.09,750.68 L279.47,749.76 L279.85,748.84 L280.24,747.92 L280.62,747.00 L281.01,746.08 L281.40,745.17 L281.79,744.25 L282.18,743.33 L282.57,742.42 L282.97,741.51 L283.37,740.60 L283.78,739.69 L284.18,738.78 L284.59,737.87 L285.00,736.96 L285.42,736.06 L285.84,735.15 L286.26,734.25 L286.69,733.35 L287.12,732.45 L287.55,731.56 L287.99,730.66 L288.43,729.77 L288.87,728.88 L289.32,727.99 L289.77,727.10 L290.23,726.21 L290.69,725.33 L291.15,724.45 L291.61,723.57 L292.08,722.69 L292.55,721.81 L293.03,720.93 L293.51,720.06 L293.99,719.19 L294.47,718.32 L294.96,717.45 L295.45,716.59 L295.95,715.72 L296.44,714.86 L296.94,714.00 L297.45,713.14 L297.95,712.28 L298.46,711.42 L298.97,710.57 L299.48,709.71 L299.99,708.85 L300.50,708.00 L300.50,708.00 L305.77,706.08 L311.04,704.17 L316.31,702.25 L321.58,700.34 L326.85,698.44 L332.13,696.53 L337.40,694.64 L342.68,692.74 L347.95,690.83 L353.22,688.93 L358.50,687.02 L363.77,685.10 L369.04,683.19 L374.31,681.27 L379.57,679.36 L384.84,677.44 L390.11,675.51 L395.38,673.59 L400.64,671.66 L405.90,669.73 L411.16,667.79 L416.42,665.84 L421.67,663.88 L426.92,661.91 L432.17,659.93 L437.41,657.94 L442.65,655.94 L447.88,653.92 L453.11,651.89 L458.33,649.84 L463.54,647.78 L468.75,645.70 L473.95,643.61 L479.15,641.51 L484.34,639.40 L489.54,637.30 L494.74,635.20 L499.94,633.10 L505.15,631.02 L510.36,628.95 L515.57,626.89 L520.78,624.83 L526.00,622.77 L531.21,620.70 L536.42,618.63 L541.63,616.56 L546.83,614.47 L552.03,612.37 L557.23,610.26 L562.42,608.13 L567.60,606.00 L572.78,603.84 L577.95,601.68 L583.11,599.50 L588.28,597.31 L593.44,595.12 L598.59,592.91 L603.75,590.71 L608.90,588.50" stroke="#0000ff" stroke-width="2.45" stroke-linejoin="miter"/>
</g>
<path d="M243.6,509.5 v7.2 M243.6,924.5 v-7.2 M308.0,509.5 v7.2 M308.0,924.5 v-7.2 M353.6,509.5 v7.2 M353.6,924.5 v-7.2 M389.0,509.5 v7.2 M389.0,924.5 v-7.2 M417.9,509.5 v7.2 M417.9,924.5 v-7.2 M442.3,509.5 v7.2 M442.3,924.5 v-7.2 M463.5,509.5 v7.2 M463.5,924.5 v-7.2 M482.2,509.5 v7.2 M482.2,924.5 v-7.2 M608.9,509.5 v7.2 M608.9,924.5 v-7.2 M673.2,509.5 v7.2 M673.2,924.5 v-7.2 M718.8,509.5 v7.2 M718.8,924.5 v-7.2 M498.9,509.5 v14 M498.9,924.5 v-14 M133.7,585.0 h14 M754.2,585.0 h-14 M133.7,660.4 h14 M754.2,660.4 h-14 M133.7,735.9 h14 M754.2,735.9 h-14 M133.7,811.3 h14 M754.2,811.3 h-14 M133.7,886.8 h14 M754.2,886.8 h-14" stroke="#111" stroke-width="1.3" fill="none"/>
<rect x="133.7" y="509.5" width="620.5" height="415.0" fill="none" stroke="#000" stroke-width="1.5"/>
<text x="113.5" y="523.0" text-anchor="end" stroke="#000">4</text>
<text x="113.5" y="598.5" text-anchor="end" stroke="#000">2</text>
<text x="113.5" y="673.9" text-anchor="end" stroke="#000">0</text>
<text x="113.5" y="749.4" text-anchor="end" stroke="#000">-2</text>
<text x="113.5" y="824.8" text-anchor="end" stroke="#000">-4</text>
<text x="113.5" y="900.3" text-anchor="end" stroke="#000">-6</text>
<text x="444.2" y="41.4" text-anchor="middle" font-weight="bold" stroke="#000" style="stroke-width:0.2px">1.5 AU</text>
<text x="133.29999999999998" y="973.2" text-anchor="middle" stroke="#000">2</text>
<text x="498.4" y="973.7" text-anchor="middle" stroke="#000">3</text>
<text x="444" y="1025.4" text-anchor="middle" stroke="#000">log <tspan dx="1.4">(</tspan><tspan dx="1.1" font-style="italic">T</tspan><tspan dx="-2.5"> [K])</tspan></text>
<text transform="translate(36,271.0) rotate(-90)" text-anchor="middle" stroke="#000">log <tspan dx="1.2">(</tspan><tspan dx="0.9" font-style="italic">P</tspan><tspan dx="-2.1"> [bar])</tspan></text>
<text transform="translate(36,717.0) rotate(-90)" text-anchor="middle" stroke="#000">log <tspan dx="1.2">(</tspan><tspan dx="0.9" font-style="italic">P</tspan><tspan dx="-2.1"> [bar])</tspan></text>
<g stroke="#000"><text x="146.5" y="109.8">(a)</text><text x="199.9" y="109.8" font-style="italic">L</text><text x="228.8" y="112.39999999999999">=</text><text x="259.5" y="109.8">1.0×10<tspan font-size="28.2" dy="-13.3" style="stroke-width:0.30px">23</tspan><tspan dy="13.3" dx="-0.6">erg/s</tspan></text></g>
<g stroke="#000"><text x="146.5" y="555.8">(b)</text><text x="199.9" y="555.8" font-style="italic">L</text><text x="228.8" y="558.4">=</text><text x="259.5" y="555.8">1.0×10<tspan font-size="28.2" dy="-13.3" style="stroke-width:0.30px">27</tspan><tspan dy="13.3" dx="-0.6">erg/s</tspan></text></g>
<g fill="#ff0000" stroke="#ff0000"><text x="532.9" y="350.5" font-style="italic" font-size="36.4" style="stroke-width:0.85px">X</text><g style="stroke-width:0.30px"><text x="562.1" y="337.0" font-size="28.2">0</text><text x="554.3" y="358.8" font-size="29.3">H</text><text x="575.1" y="365.09999999999997" font-size="22.6">2</text><text x="587.3" y="358.8" font-size="29.3">O</text></g><text x="618.8" y="353.0">=</text><text x="649.3" y="351.4">0.01</text></g>
<g fill="#228b22" stroke="#228b22"><text x="532.9" y="399.8" font-style="italic" font-size="36.4" style="stroke-width:0.85px">X</text><g style="stroke-width:0.30px"><text x="562.1" y="386.3" font-size="28.2">0</text><text x="554.3" y="408.1" font-size="29.3">H</text><text x="575.1" y="414.4" font-size="22.6">2</text><text x="587.3" y="408.1" font-size="29.3">O</text></g><text x="618.8" y="402.3">=</text><text x="649.3" y="400.7">0.50</text></g>
<g fill="#0000ff" stroke="#0000ff"><text x="532.9" y="449.2" font-style="italic" font-size="36.4" style="stroke-width:0.85px">X</text><g style="stroke-width:0.30px"><text x="562.1" y="435.7" font-size="28.2">0</text><text x="554.3" y="457.5" font-size="29.3">H</text><text x="575.1" y="463.79999999999995" font-size="22.6">2</text><text x="587.3" y="457.5" font-size="29.3">O</text></g><text x="618.8" y="451.7">=</text><text x="649.3" y="450.09999999999997">0.75</text></g>
<g fill="#ff0000" stroke="#ff0000"><text x="532.9" y="796.5" font-style="italic" font-size="36.4" style="stroke-width:0.85px">X</text><g style="stroke-width:0.30px"><text x="562.1" y="783.0" font-size="28.2">0</text><text x="554.3" y="804.8000000000001" font-size="29.3">H</text><text x="575.1" y="811.1" font-size="22.6">2</text><text x="587.3" y="804.8000000000001" font-size="29.3">O</text></g><text x="618.8" y="799.0">=</text><text x="649.3" y="797.4000000000001">0.01</text></g>
<g fill="#228b22" stroke="#228b22"><text x="532.9" y="845.8" font-style="italic" font-size="36.4" style="stroke-width:0.85px">X</text><g style="stroke-width:0.30px"><text x="562.1" y="832.3" font-size="28.2">0</text><text x="554.3" y="854.1" font-size="29.3">H</text><text x="575.1" y="860.4" font-size="22.6">2</text><text x="587.3" y="854.1" font-size="29.3">O</text></g><text x="618.8" y="848.3">=</text><text x="649.3" y="846.7">0.50</text></g>
<g fill="#0000ff" stroke="#0000ff"><text x="532.9" y="895.1999999999999" font-style="italic" font-size="36.4" style="stroke-width:0.85px">X</text><g style="stroke-width:0.30px"><text x="562.1" y="881.6999999999999" font-size="28.2">0</text><text x="554.3" y="903.5" font-size="29.3">H</text><text x="575.1" y="909.8" font-size="22.6">2</text><text x="587.3" y="903.5" font-size="29.3">O</text></g><text x="618.8" y="897.6999999999999">=</text><text x="649.3" y="896.1">0.75</text></g>
</svg>
</body></html>
